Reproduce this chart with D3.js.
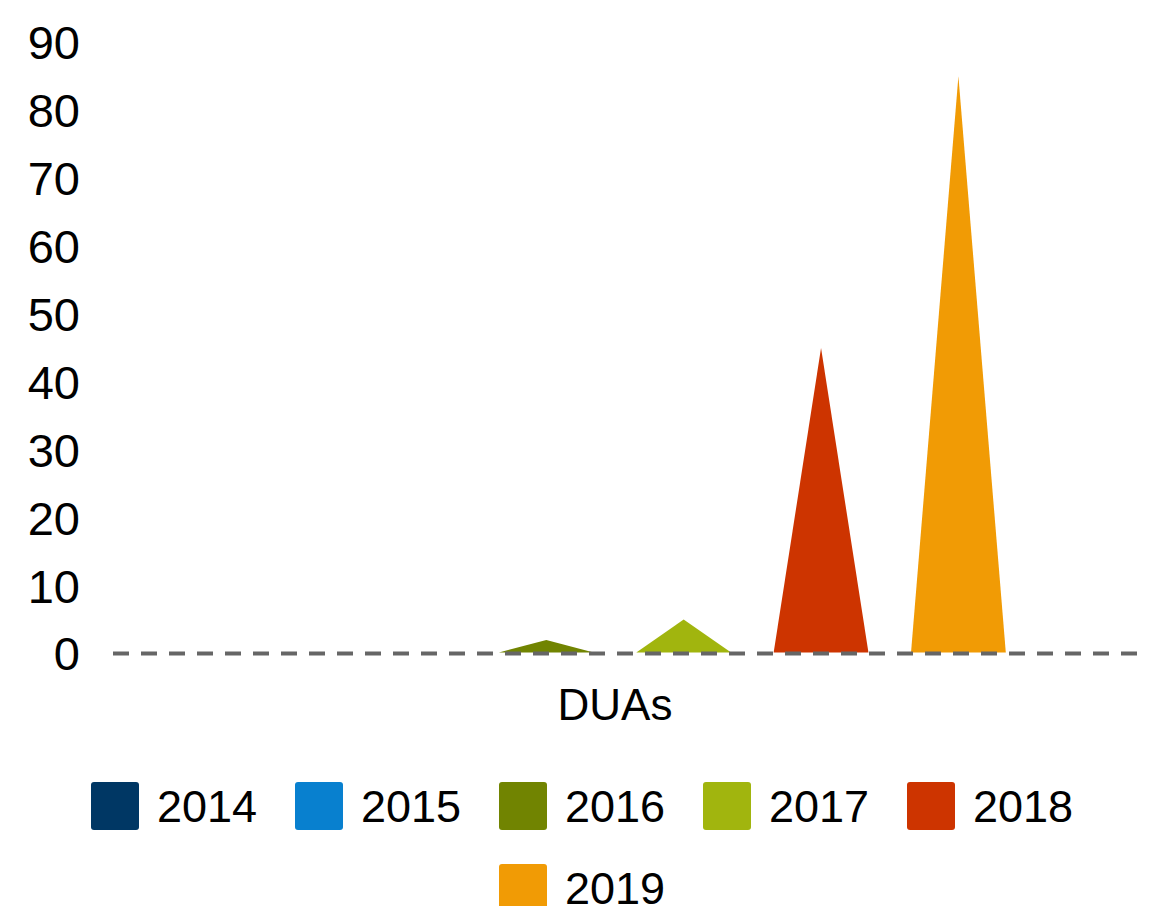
<!DOCTYPE html>
<html>
<head>
<meta charset="utf-8">
<script src="https://cdn.jsdelivr.net/npm/d3@7"></script>
<style>
    body { margin: 0; background: #fff; }
    text { font-family: "Liberation Sans", Arial, sans-serif; fill: #000; }
</style>
</head>
<body>
<div id="chart"></div>
<script>
// data
const categories = ['DUAs'];
const years = ['2014', '2015', '2016', '2017', '2018', '2019'];
const values = [0, 0, 2, 5, 45, 85];
const yTicks = [0, 10, 20, 30, 40, 50, 60, 70, 80, 90];
const colors = ['#003764', '#0880cf', '#718401', '#a1b50e', '#cd3400', '#f19b05'];

const width = 1159;
const height = 906;

const svg = d3.select('#chart')
    .append('svg')
    .attr('width', width)
    .attr('height', height);

const y = d3.scaleLinear()
    .domain([0, 90])
    .range([653.5, 42.4]);

// outer band for the one category, inner band for the years
const x0 = d3.scaleBand()
    .domain(categories)
    .range([104, 1126])
    .paddingOuter(0.12);

const x1 = d3.scaleBand()
    .domain(years)
    .range([0, x0.bandwidth()])
    .paddingInner(0.31)
    .paddingOuter(0.155);

// y axis labels (no axis line)
const yAxis = d3.axisLeft(y).tickValues(yTicks).tickSize(0).tickPadding(0);
const gy = svg.append('g')
    .attr('transform', 'translate(80,0)')
    .call(yAxis);
gy.select('.domain').remove();
gy.selectAll('text')
    .attr('dy', '0.35em')
    .style('font-size', '47px')
    .style('font-family', '"Liberation Sans", Arial, sans-serif')
    .attr('fill', '#000');

// triangles
const group = svg.append('g')
    .attr('transform', `translate(${x0('DUAs')},0)`);

years.forEach((yr, i) => {
    const v = values[i];
    if (v <= 0) return;
    const left = x1(yr);
    const bw = x1.bandwidth();
    const path = d3.path();
    path.moveTo(left, y(0) - 1);
    path.lineTo(left + bw / 2, y(v));
    path.lineTo(left + bw, y(0) - 1);
    path.closePath();
    group.append('path')
        .attr('d', path.toString())
        .attr('fill', colors[i]);
});

// dashed zero line on top
svg.append('line')
    .attr('x1', 113)
    .attr('x2', 1138)
    .attr('y1', y(0))
    .attr('y2', y(0))
    .attr('stroke', '#666')
    .attr('stroke-width', 4)
    .attr('stroke-dasharray', '16,12');

// category label
svg.append('text')
    .attr('x', x0('DUAs') + x0.bandwidth() / 2)
    .attr('y', 720)
    .attr('text-anchor', 'middle')
    .style('font-size', '44px')
    .text(categories[0]);

// legend
const legend = svg.append('g');
years.forEach((yr, i) => {
    const row = i < 5 ? 0 : 1;
    const col = i < 5 ? i : 2;
    const gx = 91 + col * 204;
    const gyPos = 782 + row * 82;
    const item = legend.append('g').attr('transform', `translate(${gx},${gyPos})`);
    item.append('rect')
        .attr('width', 48)
        .attr('height', 48)
        .attr('rx', 3)
        .attr('fill', colors[i]);
    item.append('text')
        .attr('x', 66)
        .attr('y', 24)
        .attr('dy', '0.35em')
        .style('font-size', '45px')
        .text(yr);
});
</script>
</body>
</html>
